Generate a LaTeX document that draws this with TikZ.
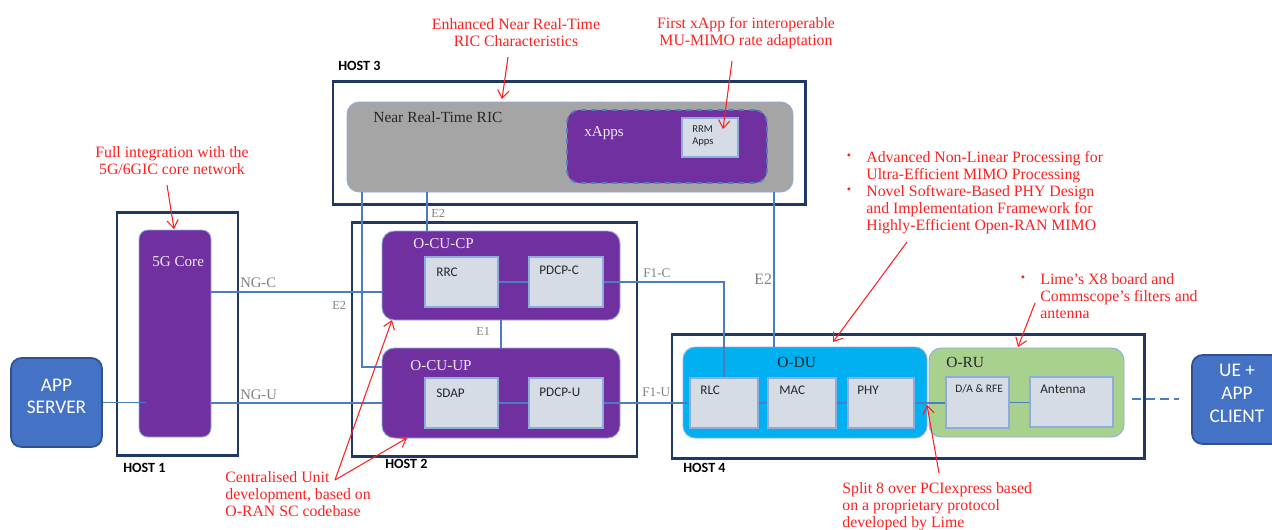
\documentclass[tikz,border=0pt]{standalone}
\usepackage{fontspec}
\setmainfont{Liberation Serif}
\newfontfamily\calib{Carlito}
\usetikzlibrary{fit,arrows.meta}
\definecolor{hostc}{HTML}{203864}
\definecolor{purp}{HTML}{7030A0}
\definecolor{subfill}{HTML}{D6DCE5}
\definecolor{subline}{HTML}{8FAADC}
\definecolor{linkc}{HTML}{4A7EC0}
\definecolor{appfill}{HTML}{4472C4}
\definecolor{appline}{HTML}{2F528F}
\definecolor{dufill}{HTML}{00B0F0}
\definecolor{rufill}{HTML}{A9D18E}
\definecolor{ricfill}{HTML}{A5A5A5}
\definecolor{annred}{HTML}{FF1F1F}
\definecolor{lblgray}{HTML}{7F7F7F}
\definecolor{dashblue}{HTML}{4F81BD}
\begin{document}
\begin{tikzpicture}[x=0.02cm,y=-0.02cm,
  host/.style={draw=hostc, line width=1.7pt, inner sep=0pt},
  hostlbl/.style={font=\calib\bfseries\fontsize{8}{9}\selectfont, anchor=west, inner sep=0pt},
  func/.style={fill=purp, draw=subline, line width=0.5pt, rounded corners=7pt, inner sep=0pt},
  sub/.style={fill=subfill, draw=subline, line width=0.6pt, inner sep=0pt},
  sublbl/.style={font=\calib\fontsize{7.5}{8.5}\selectfont, anchor=west, inner sep=0pt, text=black!85},
  wlbl/.style={font=\fontsize{8.6}{10}\selectfont, text=white!90!purp, anchor=west, inner sep=0pt},
  blbl/.style={font=\fontsize{8.8}{10}\selectfont, text=black!85, anchor=west, inner sep=0pt},
  conn/.style={draw=linkc, line width=0.6pt},
  iflbl/.style={font=\fontsize{8.3}{9}\selectfont, text=lblgray, anchor=west, inner sep=0pt},
  note/.style={font=\fontsize{9}{9.8}\selectfont, text=annred, inner sep=0pt},
  bul/.style={font=\fontsize{7}{8}\selectfont, text=annred, inner sep=0pt},
  ann/.style={draw=annred, line width=0.6pt, -{Straight Barb[length=4.5pt,width=6.5pt]}},
  client/.style={fill=appfill, draw=appline, line width=1pt, rounded corners=6pt, inner sep=0pt,
    text=white, font=\calib\fontsize{11}{13}\selectfont, align=center},
  unit/.style={draw=subline, line width=0.5pt, rounded corners=7pt, inner sep=0pt}
]
\useasboundingbox (0,0) rectangle (1272,529);

% ---------- HOST 1 ----------
\node[client, fit={(11,358) (102,447)}] (appsrv) {APP\\SERVER};
\node[host, fit={(117,212) (238,455)}] (host1) {};
\node[hostlbl] (h1lbl) at (123,468) {HOST 1};
\node[func, rounded corners=5pt, fit={(139,230) (211,437)}] (core) {};
\node[wlbl] (corelbl) at (152,262) {5G Core};

% ---------- HOST 3 ----------
\node[host, fit={(333,81) (805,204)}] (host3) {};
\node[hostlbl] (h3lbl) at (338,66) {HOST 3};
\node[unit, fill=ricfill, fit={(347,102) (793,192)}] (ric) {};
\node[blbl] (riclbl) at (373,117) {Near Real-Time RIC};
\node[fill=purp, draw=dashblue, dashed, line width=1pt, rounded corners=7pt, inner sep=0pt,
  fit={(567,110) (767,183)}] (xapps) {};
\node[wlbl] (xappslbl) at (584,133) {xApps};
\node[sub, fit={(682,118) (738,157)}] (rrm) {};
\node[font=\calib\fontsize{6}{7}\selectfont, align=left, anchor=north west, inner sep=0pt, text=black!85]
  (rrmlbl) at (692,125) {RRM\\Apps};

% ---------- HOST 2 ----------
\node[host, fit={(352,222) (637,456)}] (host2) {};
\node[hostlbl] (h2lbl) at (385,464) {HOST 2};
\node[func, fit={(382,231) (620,320)}] (ocucp) {};
\node[wlbl] (ocucplbl) at (413,244) {O-CU-CP};
\node[sub, fit={(425,257) (498,307)}] (rrc) {};
\node[sublbl] (rrclbl) at (436,272) {RRC};
\node[sub, fit={(529,257) (603,307)}] (pdcpc) {};
\node[sublbl] (pdcpclbl) at (539,270) {PDCP-C};
\node[func, fit={(382,348) (620,438)}] (ocuup) {};
\node[wlbl] (ocuuplbl) at (410,366) {O-CU-UP};
\node[sub, fit={(425,378) (498,428)}] (sdap) {};
\node[sublbl] (sdaplbl) at (436,393) {SDAP};
\node[sub, fit={(529,378) (603,428)}] (pdcpu) {};
\node[sublbl] (pdcpulbl) at (539,392) {PDCP-U};

% ---------- HOST 4 ----------
\node[host, fit={(672,334) (1144,458)}] (host4) {};
\node[hostlbl] (h4lbl) at (683,468) {HOST 4};
\node[unit, fill=dufill, fit={(683,347) (927,438)}] (odu) {};
\node[blbl] (odulbl) at (777,362) {O-DU};
\node[unit, fill=rufill, fit={(929,348) (1124,437)}] (oru) {};
\node[blbl] (orulbl) at (946,362) {O-RU};
\node[sub, fit={(690,378) (758,428)}] (rlc) {};
\node[sublbl] (rlclbl) at (700,390) {RLC};
\node[sub, fit={(768,378) (836,428)}] (mac) {};
\node[sublbl] (maclbl) at (779,390) {MAC};
\node[sub, fit={(848,378) (914,428)}] (phy) {};
\node[sublbl] (phylbl) at (857,390) {PHY};
\node[sub, fit={(946,377) (1009,428)}] (dar) {};
\node[sublbl, font=\calib\fontsize{6.5}{7.5}\selectfont] (darlbl) at (955,389) {D/A \& RFE};
\node[sub, fit={(1030,377) (1113,427)}] (ant) {};
\node[sublbl] (antlbl) at (1040,389) {Antenna};

\node[client, fit={(1192,355) (1282,444)}] (ueclient) {UE +\\APP\\CLIENT};

% ---------- connectors ----------
\draw[conn] (appsrv.east) -- ([xshift=4]core.west |- appsrv.east);
\draw[conn] (core.east |- 0,292) -- (ocucp.west |- 0,292);
\node[iflbl] (ngclbl) at (240,283) {NG-C};
\draw[conn] (core.east |- 0,403) -- (ocuup.west |- 0,403);
\node[iflbl] (ngulbl) at (240,395) {NG-U};
\draw[conn] (ric.south -| 362,0) |- (ocuup.west |- 0,367);
\node[iflbl, font=\fontsize{7}{8}\selectfont] (e2albl) at (332,305) {E2};
\draw[conn] (ric.south -| 427,0) -- (ocucp.north -| 427,0);
\node[iflbl, font=\fontsize{7}{8}\selectfont] (e2blbl) at (431,213) {E2};
\draw[conn] (ocucp.south -| 501,0) -- (ocuup.north -| 501,0);
\node[iflbl, font=\fontsize{7}{8}\selectfont] (e1lbl) at (476,331) {E1};
\draw[conn] (rrc.east) -- (pdcpc.west);
\draw[conn] (sdap.east) -- (pdcpu.west);
\draw[conn] (pdcpc.east) -| (rlc.north);
\node[iflbl, font=\fontsize{7.5}{8}\selectfont] (f1clbl) at (643,273) {F1-C};
\draw[conn] (pdcpu.east) -- (rlc.west |- pdcpu.east);
\node[iflbl, font=\fontsize{7.5}{8}\selectfont] (f1ulbl) at (642,392) {F1-U};
\draw[conn] (ric.south -| 774,0) -- (odu.north -| 774,0);
\node[iflbl, font=\fontsize{9}{10}\selectfont] (e2clbl) at (754,279) {E2};
\draw[conn] (rlc.east) -- (mac.west);
\draw[conn] (mac.east) -- (phy.west);
\draw[conn] (phy.east) -- (dar.west |- phy.east);
\draw[conn] (dar.east) -- (ant.west |- dar.east);
\coordinate (dashs) at (1132,399);
\draw[conn, dashed, dash pattern=on 5pt off 3pt, line width=0.8pt] (dashs) -- ([xshift=-7]ueclient.west |- dashs);

% ---------- annotations ----------
\node[note, align=center, anchor=north] (enh) at (516,18) {Enhanced Near Real-Time\\RIC Characteristics};
\coordinate (enhs) at (508,57); \coordinate (enht) at (502,99);
\draw[ann] (enhs) -- (enht);
\node[note, align=center, anchor=north] (fxa) at (746,17) {First xApp for interoperable\\MU-MIMO rate adaptation};
\coordinate (fxas) at (732,61); \coordinate (fxat) at (723,129);
\draw[ann] (fxas) -- (fxat);
\node[note, align=center, anchor=north] (full) at (172,146) {Full integration with the\\5G/6GIC core network};
\coordinate (fulls) at (167,185); \coordinate (fullt) at (174,229);
\draw[ann] (fulls) -- (fullt);
\node[bul] (b1) at (849,157) {•};
\node[note, align=left, anchor=north west] (adv1) at (866,151) {Advanced Non-Linear Processing for\\Ultra-Efficient MIMO Processing};
\node[bul] (b2) at (849,191) {•};
\node[note, align=left, anchor=north west] (adv2) at (866,185) {Novel Software-Based PHY Design\\and Implementation Framework for\\Highly-Efficient Open-RAN MIMO};
\coordinate (advs) at (907,242); \coordinate (advt) at (833,342);
\draw[ann] (advs) -- (advt);
\node[bul] (b3) at (1023,279) {•};
\node[note, align=left, anchor=north west] (lime) at (1040,273) {Lime's X8 board and\\Commscope's filters and\\antenna};
\coordinate (limes) at (1035,303); \coordinate (limet) at (1018,347);
\draw[ann] (limes) -- (limet);
\node[note, align=left, anchor=north west] (split) at (842,482) {Split 8 over PCIexpress based\\on a proprietary protocol\\developed by Lime};
\coordinate (splits) at (939,473); \coordinate (splitt) at (927,405);
\draw[ann] (splits) -- (splitt);
\node[note, align=left, anchor=north west] (cent) at (225,471) {Centralised Unit\\development, based on\\O-RAN SC codebase};
\coordinate (cents) at (335,480);
\coordinate (centt1) at (392,320); \coordinate (centt2) at (407,438);
\draw[ann] (cents) -- (centt1);
\draw[ann] (cents) -- (centt2);
\end{tikzpicture}
\end{document}
